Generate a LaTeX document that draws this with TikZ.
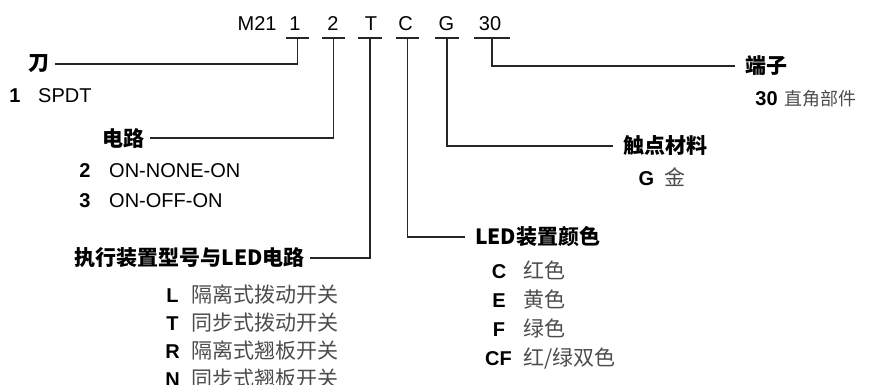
\documentclass[tikz,border=0pt]{standalone}
\usepackage{fontspec}
\setmainfont{Liberation Sans}
\newfontfamily\cjk{Noto Sans CJK SC}
\begin{document}
\begin{tikzpicture}[
    x=1pt, y=-1pt,
    code/.style={anchor=base, inner sep=0, font=\fontsize{20}{24}\selectfont},
    lead/.style={line width=1.1pt, black!85},
    headL/.style={anchor=east, inner xsep=5pt, inner ysep=0, font=\cjk\bfseries\fontsize{21}{24}\selectfont},
    headR/.style={anchor=west, inner xsep=10pt, inner ysep=0, font=\cjk\bfseries\fontsize{21}{24}\selectfont},
    key/.style={anchor=base, inner sep=0, font=\bfseries\fontsize{20}{24}\selectfont},
    desc/.style={anchor=base west, inner sep=0, font=\fontsize{20}{24}\selectfont},
    cdesc/.style={anchor=base west, inner sep=0, black!70, font=\cjk\fontsize{21}{24}\selectfont}
    ]
    \useasboundingbox (0,0) rectangle (870,385);

    % Bestellcode
    \node[code, anchor=base west] (pre) at (237.5,31) {M21};
    \node[code] (c1) at (295,31) {1};
    \node[code] (c2) at (333,31) {2};
    \node[code] (cT) at (371,31) {T};
    \node[code] (cC) at (405.5,31) {C};
    \node[code] (cG) at (446.5,31) {G};
    \node[code] (c30) at (490,31) {30};

    % Unterstriche
    \coordinate (u1) at (297.5,38);
    \coordinate (u2) at (333.5,38);
    \coordinate (uT) at (370,38);
    \coordinate (uC) at (407.5,38);
    \coordinate (uG) at (447,38);
    \coordinate (u30) at (492,38);
    \draw[lead] ([xshift=-11.5]u1) -- ([xshift=11.5]u1);
    \draw[lead] ([xshift=-11.5]u2) -- ([xshift=11.5]u2);
    \draw[lead] ([xshift=-12]uT) -- ([xshift=12]uT);
    \draw[lead] ([xshift=-11.5]uC) -- ([xshift=11.5]uC);
    \draw[lead] ([xshift=-12]uG) -- ([xshift=12]uG);
    \draw[lead] ([xshift=-18]u30) -- ([xshift=18]u30);

    % Ueberschriften
    \node[headL] (blade) at (55,64) {刀};
    \node[headL] (circ) at (150,138) {电路};
    \node[headL] (act) at (310,258) {执行装置型号与LED电路};
    \node[headR] (led) at (465,237) {LED装置颜色};
    \node[headR] (cont) at (613,146) {触点材料};
    \node[headR] (term) at (735,66) {端子};

    % Verbindungen
    \draw[lead] (u1) |- (blade);
    \draw[lead] (u2) |- (circ);
    \draw[lead] (uT) |- (act);
    \draw[lead] (uC) |- (led);
    \draw[lead] (uG) |- (cont);
    \draw[lead] (u30) |- (term);

    % Optionen
    \node[key] (k1) at (15,103) {1};
    \node[desc] (spdt) at (38,103) {SPDT};
    \node[key] (k2) at (85,178) {2};
    \node[desc] (onon) at (109,178) {ON-NONE-ON};
    \node[key] (k3) at (85,207) {3};
    \node[desc] (onoff) at (109,207) {ON-OFF-ON};

    \node[key] (kL) at (172.5,302) {L};
    \node[cdesc] (dL) at (191,302) {隔离式拨动开关};
    \node[key] (kT) at (172.5,330) {T};
    \node[cdesc] (dT) at (191,330) {同步式拨动开关};
    \node[key] (kR) at (172.5,358) {R};
    \node[cdesc] (dR) at (191,358) {隔离式翘板开关};
    \node[key] (kN) at (172.5,386) {N};
    \node[cdesc] (dN) at (191,386) {同步式翘板开关};

    \node[key] (kG) at (646.5,185) {G};
    \node[cdesc] (dG) at (664,185) {金};

    \node[key] (kC) at (499,278) {C};
    \node[cdesc] (dC) at (523,278) {红色};
    \node[key] (kE) at (499,307) {E};
    \node[cdesc] (dE) at (523,307) {黄色};
    \node[key] (kF) at (499,336) {F};
    \node[cdesc] (dF) at (523,336) {绿色};
    \node[key] (kCF) at (498.5,365) {CF};
    \node[cdesc] (dCF) at (523,365) {红/绿双色};

    \node[key] (k30) at (766.5,106) {30};
    \node[cdesc, font=\cjk\fontsize{18}{22}\selectfont] (d30) at (784,106) {直角部件};

\end{tikzpicture}
\end{document}
